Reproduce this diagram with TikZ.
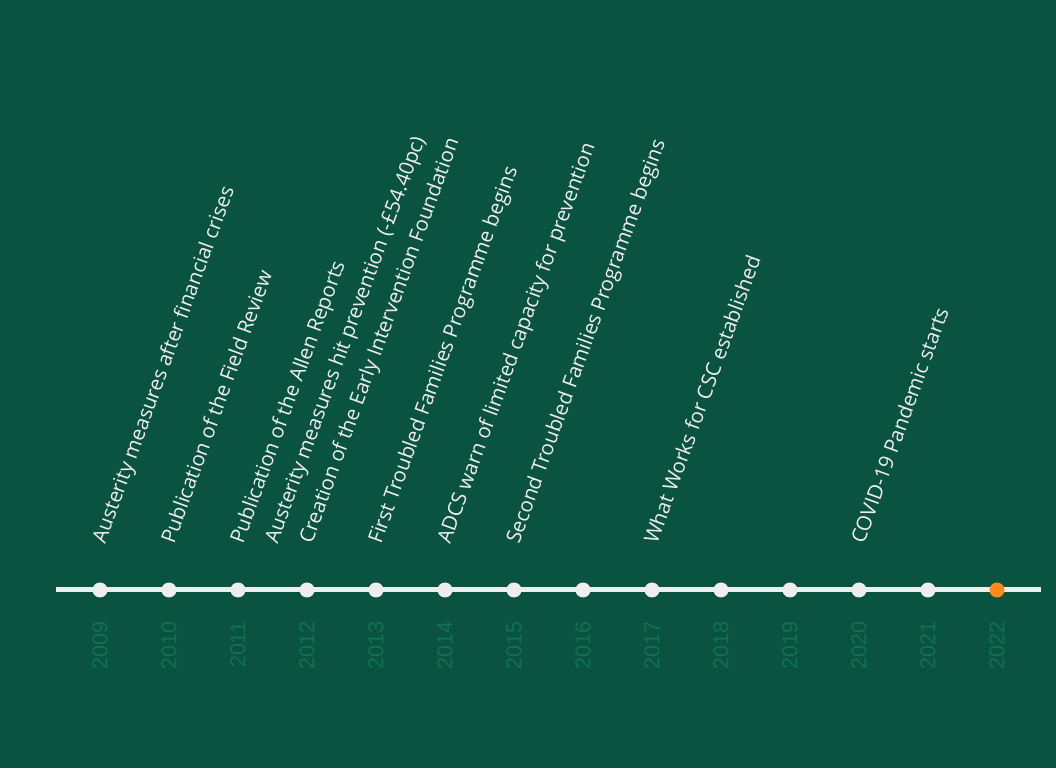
\documentclass[tikz,border=0pt]{standalone}
\usepackage{fontspec}
\setmainfont{Open Sans}
\newfontfamily\yearfont{Liberation Sans}
\usetikzlibrary{positioning, calc}
\definecolor{bgFill}{HTML}{0B5341}
\definecolor{lineFill}{HTML}{EEEEEE}
\definecolor{yearText}{HTML}{117252}
\definecolor{nowFill}{HTML}{FF8C1A}
\tikzset{
    Dot/.style = {
        circle, fill=#1, minimum size=15pt, inner sep=0pt, outer sep=0pt
    },
    Dot/.default={lineFill},
    Timeline/.style = {draw=lineFill, line width=5pt},
    Year/.style = {
        rotate=90, anchor=east, inner sep=0pt, text=yearText,
        font=\yearfont\fontsize{21.5}{24}\selectfont
    },
    Event/.style = {
        rotate=70, anchor=base west, inner sep=0pt, text=lineFill,
        font=\fontsize{20.4}{24}\selectfont
    }
}

\begin{document}
\begin{tikzpicture}[x=1pt, y=1pt]
    \fill [bgFill] (0,0) rectangle (1056,768);
    \coordinate (lineW) at (56,178);
    \coordinate (lineE) at (1041,178);
    \draw [Timeline] (lineW) -- (lineE);
    % dots, one per year
    \node [Dot] (d2009) at (100,178) {};
    \node [Dot, right=54pt of d2009] (d2010) {};
    \node [Dot, right=54pt of d2010] (d2011) {};
    \node [Dot, right=54pt of d2011] (d2012) {};
    \node [Dot, right=54pt of d2012] (d2013) {};
    \node [Dot, right=54pt of d2013] (d2014) {};
    \node [Dot, right=54pt of d2014] (d2015) {};
    \node [Dot, right=54pt of d2015] (d2016) {};
    \node [Dot, right=54pt of d2016] (d2017) {};
    \node [Dot, right=54pt of d2017] (d2018) {};
    \node [Dot, right=54pt of d2018] (d2019) {};
    \node [Dot, right=54pt of d2019] (d2020) {};
    \node [Dot, right=54pt of d2020] (d2021) {};
    \node [Dot=nowFill, right=54pt of d2021] (d2022) {};
    % year labels
    \node [below=24pt of d2009, Year] (y2009) {2009};
    \node [below=24pt of d2010, Year] (y2010) {2010};
    \node [below=24pt of d2011, Year] (y2011) {2011};
    \node [below=24pt of d2012, Year] (y2012) {2012};
    \node [below=24pt of d2013, Year] (y2013) {2013};
    \node [below=24pt of d2014, Year] (y2014) {2014};
    \node [below=24pt of d2015, Year] (y2015) {2015};
    \node [below=24pt of d2016, Year] (y2016) {2016};
    \node [below=24pt of d2017, Year] (y2017) {2017};
    \node [below=24pt of d2018, Year] (y2018) {2018};
    \node [below=24pt of d2019, Year] (y2019) {2019};
    \node [below=24pt of d2020, Year] (y2020) {2020};
    \node [below=24pt of d2021, Year] (y2021) {2021};
    \node [below=24pt of d2022, Year] (y2022) {2022};
    % events
    \node [Event] (austerity) at ($(d2009)+(5,45)$) {Austerity measures after financial crises};
    \node [Event] (field) at ($(d2010)+(5,45)$) {Publication of the Field Review};
    \node [Event] (allen) at ($(d2011)+(5,45)$) {Publication of the Allen Reports};
    \node [Event] (cuts) at ($(d2011)!0.5!(d2012)+(5,45)$) {Austerity measures hit prevention (-£54.40pc)};
    \node [Event] (eif) at ($(d2012)+(5,45)$) {Creation of the Early Intervention Foundation};
    \node [Event] (tf1) at ($(d2013)+(5,45)$) {First Troubled Families Programme begins};
    \node [Event] (adcs) at ($(d2014)+(5,45)$) {ADCS warn of limited capacity for prevention};
    \node [Event] (tf2) at ($(d2015)+(5,45)$) {Second Troubled Families Programme begins};
    \node [Event] (wwcsc) at ($(d2017)+(5,45)$) {What Works for CSC established};
    \node [Event] (covid) at ($(d2020)+(5,45)$) {COVID-19 Pandemic starts};
\end{tikzpicture}
\end{document}
